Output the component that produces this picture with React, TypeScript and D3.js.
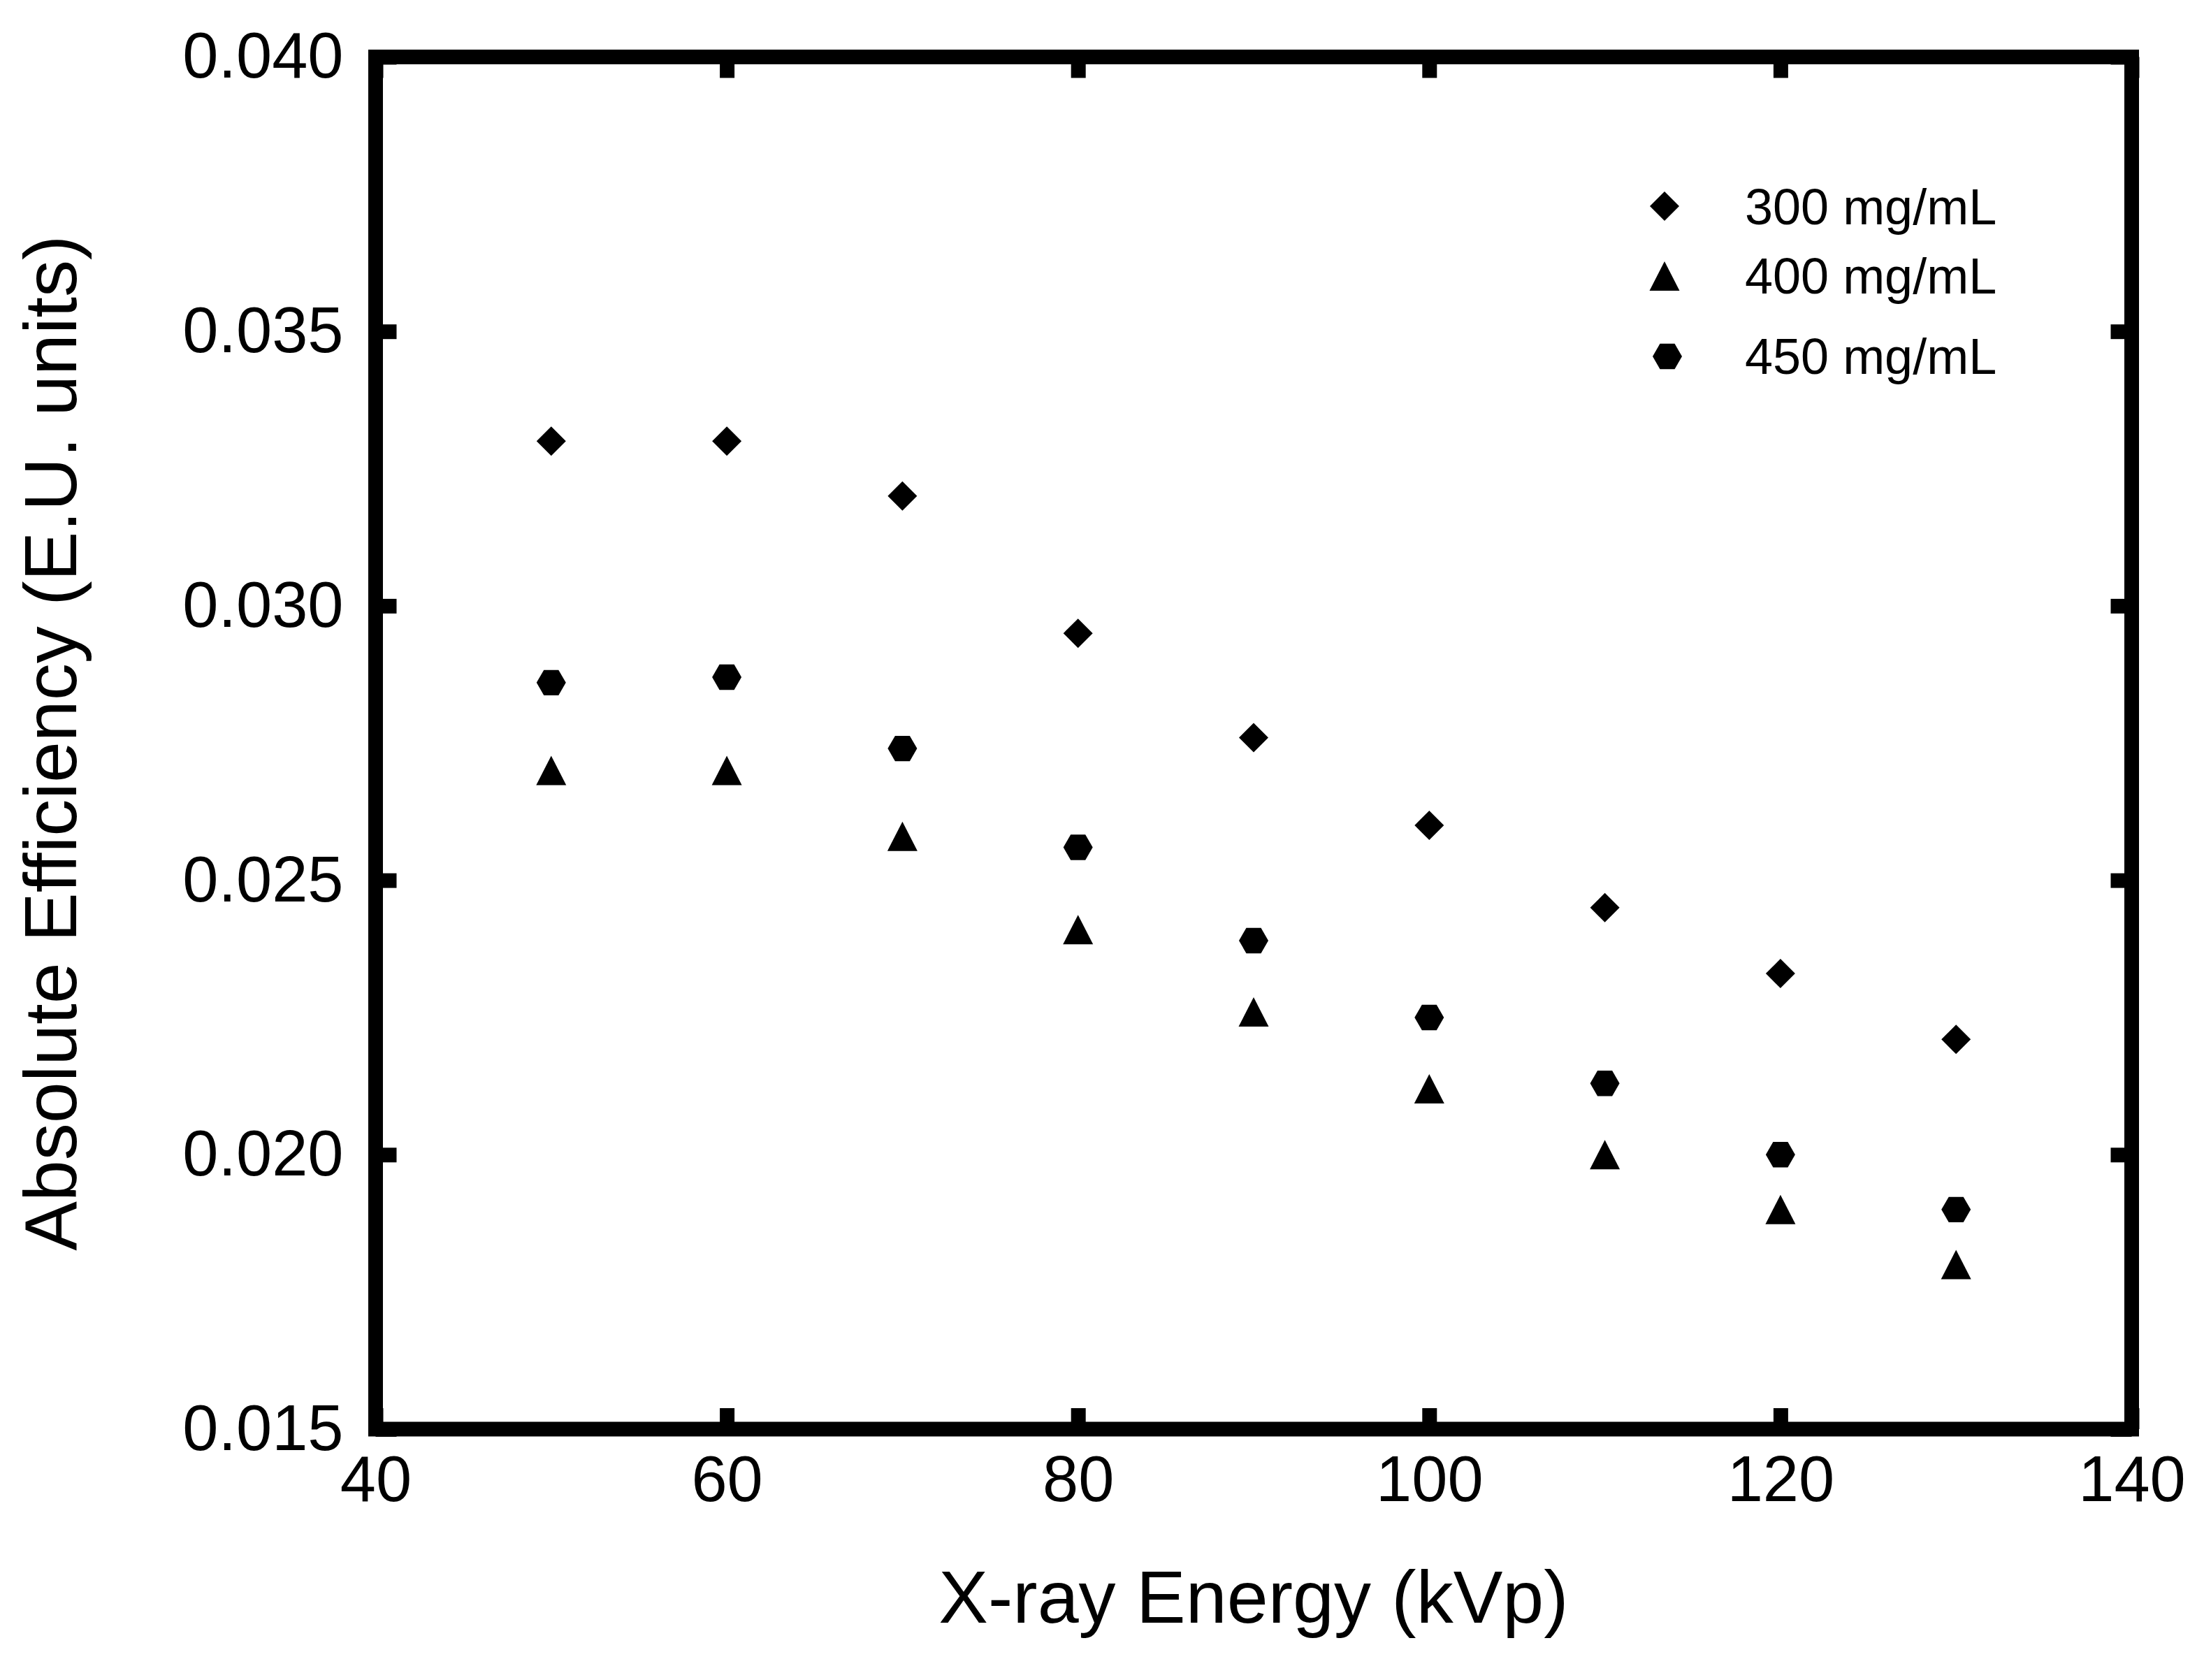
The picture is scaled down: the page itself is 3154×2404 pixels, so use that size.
import React, { useRef, useEffect } from "react";
import { select, scaleLinear, axisLeft, axisBottom, axisRight, axisTop, format } from "d3";

// X-ray tube voltage (kVp)
const energies = [50, 60, 70, 80, 90, 100, 110, 120, 130];

// absolute efficiency per contrast concentration
const eff300 = [0.033, 0.033, 0.032, 0.0295, 0.0276, 0.026, 0.0245, 0.0233, 0.0221];
const eff400 = [0.027, 0.027, 0.0258, 0.0241, 0.0226, 0.0212, 0.02, 0.019, 0.018];
const eff450 = [0.0286, 0.0287, 0.0274, 0.0256, 0.0239, 0.0225, 0.0213, 0.02, 0.019];

const seriesNames = ["300 mg/mL", "400 mg/mL", "450 mg/mL"];
const seriesShapes = ["diamond", "triangle", "hexagon"];

const xTicks = [40, 60, 80, 100, 120, 140];
const yTicks = [0.015, 0.02, 0.025, 0.03, 0.035, 0.04];

const W = 3154;
const H = 2404;
const FONT = "'Liberation Sans', Arial, Helvetica, sans-serif";

const markerPath = (shape: string) => {
  if (shape === "diamond") return "M0,-21L21,0L0,21L-21,0Z";
  if (shape === "triangle") return "M0,-21L21.5,21L-21.5,21Z";
  // hexagon, pointy left/right
  const r = 21;
  const h = (r * Math.sqrt(3)) / 2;
  return `M${r},0L${r / 2},${h}L${-r / 2},${h}L${-r},0L${-r / 2},${-h}L${r / 2},${-h}Z`;
};

const App: React.FC = () => {
  const d3Element = useRef<SVGSVGElement>(null);

  useEffect(() => {
    const svg = select(d3Element.current);
    svg.selectAll("*").remove();

    const left = 537.5,
      right = 3050.5,
      top = 81.5,
      bottom = 2045;

    const xScale = scaleLinear().domain([40, 140]).range([left, right]);
    const yScale = scaleLinear().domain([0.015, 0.04]).range([bottom, top]);

    const styleAxis = (g: any) => {
      g.select(".domain").remove();
      g.selectAll(".tick line").attr("stroke", "#000").attr("stroke-width", 21);
      g.selectAll(".tick text")
        .attr("fill", "#000")
        .style("font-family", FONT)
        .style("font-size", "92px");
    };

    const yAxisG = svg
      .append("g")
      .attr("transform", `translate(${left},0)`)
      .call(axisLeft(yScale).tickValues(yTicks).tickFormat(format(".3f")).tickSizeInner(-30).tickSizeOuter(0).tickPadding(46));
    styleAxis(yAxisG);

    const yAxisR = svg
      .append("g")
      .attr("transform", `translate(${right},0)`)
      .call(axisRight(yScale).tickValues(yTicks).tickFormat(() => "").tickSizeInner(-30).tickSizeOuter(0));
    styleAxis(yAxisR);

    const xAxisG = svg
      .append("g")
      .attr("transform", `translate(0,${bottom})`)
      .call(axisBottom(xScale).tickValues(xTicks).tickFormat(format("d")).tickSizeInner(-30).tickSizeOuter(0).tickPadding(38));
    styleAxis(xAxisG);

    const xAxisT = svg
      .append("g")
      .attr("transform", `translate(0,${top})`)
      .call(axisTop(xScale).tickValues(xTicks).tickFormat(() => "").tickSizeInner(-30).tickSizeOuter(0));
    styleAxis(xAxisT);

    // frame
    svg
      .append("rect")
      .attr("x", left)
      .attr("y", top)
      .attr("width", right - left)
      .attr("height", bottom - top)
      .attr("fill", "none")
      .attr("stroke", "#000")
      .attr("stroke-width", 21);

    const allSeries = [eff300, eff400, eff450];
    allSeries.forEach((vals, si) => {
      svg
        .append("g")
        .selectAll("path")
        .data(vals)
        .enter()
        .append("path")
        .attr("d", markerPath(seriesShapes[si]))
        .attr("transform", (d: number, i: number) => `translate(${xScale(energies[i])},${yScale(d)})`)
        .attr("fill", "#000");
    });

    // legend
    const legendMarkerX = [2382, 2382, 2386];
    const legendMarkerY = [295, 395, 510];
    const legendBaseline = [321, 420, 535];
    seriesNames.forEach((name, i) => {
      svg
        .append("path")
        .attr("d", markerPath(seriesShapes[i]))
        .attr("transform", `translate(${legendMarkerX[i]},${legendMarkerY[i]})`)
        .attr("fill", "#000");
      svg
        .append("text")
        .attr("x", 2497)
        .attr("y", legendBaseline[i])
        .style("font-family", FONT)
        .style("font-size", "72px")
        .attr("fill", "#000")
        .text(name);
    });

    svg
      .append("text")
      .attr("x", (left + right) / 2)
      .attr("y", 2322)
      .attr("text-anchor", "middle")
      .style("font-family", FONT)
      .style("font-size", "106px")
      .text("X-ray Energy (kVp)");

    svg
      .append("text")
      .attr("transform", `translate(109,${(top + bottom) / 2}) rotate(-90)`)
      .attr("text-anchor", "middle")
      .style("font-family", FONT)
      .style("font-size", "106px")
      .text("Absolute Efficiency (E.U. units)");
  }, []);

  return (
    <svg
      ref={d3Element}
      width={W}
      height={H}
      style={{ position: "absolute", left: 0, top: 0, background: "#fff" }}
    />
  );
};

export default App;
